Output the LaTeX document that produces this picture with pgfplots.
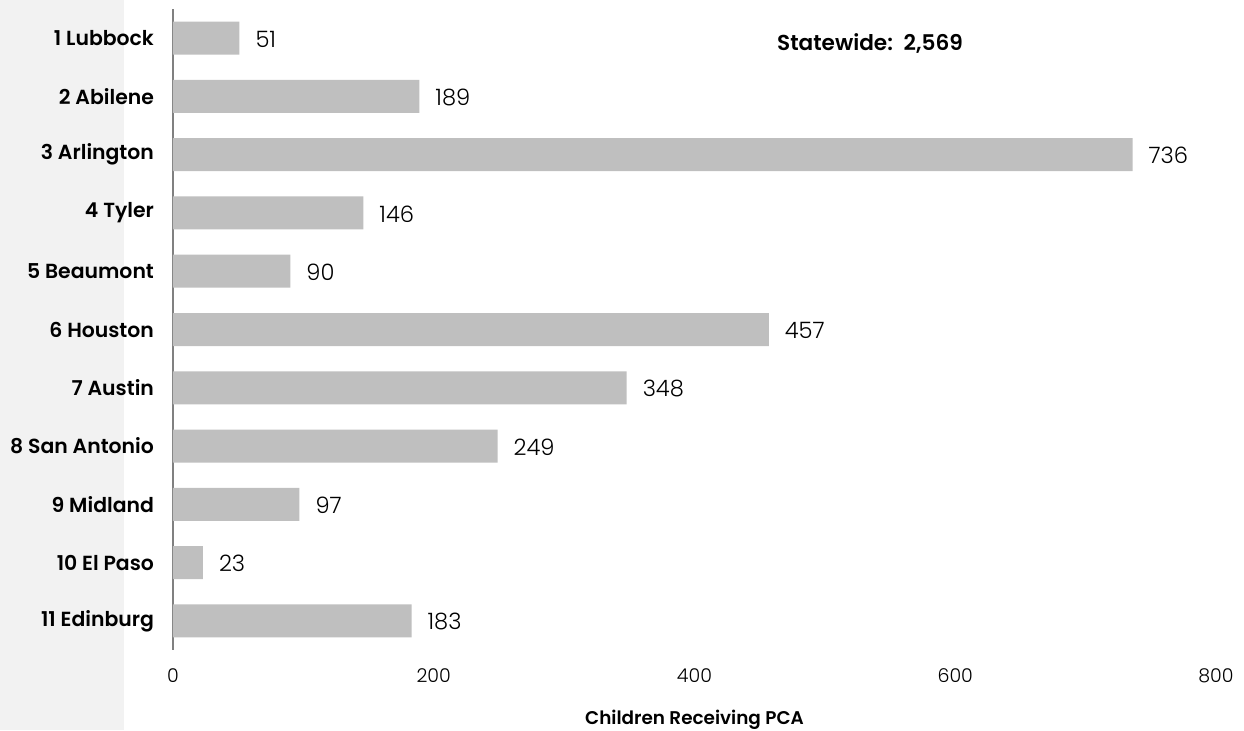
\documentclass[border=0pt]{standalone}
\usepackage{pgfplots}
\pgfplotsset{compat=1.18}
\usepackage{fontspec}
\setmainfont{Poppins}[UprightFont={* Light}, BoldFont={* SemiBold}]
\definecolor{barg}{HTML}{BFBFBF}
\definecolor{panel}{HTML}{F2F2F2}
\definecolor{axg}{HTML}{808080}
\begin{document}
\begin{tikzpicture}
\useasboundingbox (-86.5pt,-40pt) rectangle (535.5pt,325pt);
\fill[panel] (-86.5pt,-40pt) rectangle (-24.5pt,325pt);
\begin{axis}[
  at={(0,0)}, anchor=south west,
  scale only axis, width=521.5pt, height=320.5pt,
  xbar, bar width=16.5pt,
  xmin=0, xmax=800, ymin=0.5, ymax=11.5, y dir=reverse,
  xtick={0,200,400,600,800},
  ytick={1,...,11},
  yticklabels={1 Lubbock,2 Abilene,3 Arlington,4 Tyler,5 Beaumont,6 Houston,7 Austin,8 San Antonio,9 Midland,10 El Paso,11 Edinburg},
  yticklabel style={font=\fontsize{10.2}{12}\selectfont\bfseries, xshift=-6pt},
  xticklabel style={font=\fontsize{9.5}{11}\selectfont, yshift=-6pt},
  /pgf/number format/assume math mode=true,
  major tick length=0pt,
  axis x line*=bottom, x axis line style={draw=none},
  axis y line*=left, y axis line style={draw=axg, line width=0.6pt},
  xlabel={\bfseries Children Receiving PCA},
  xlabel style={font=\fontsize{9.2}{11}\selectfont, yshift=-6.5pt},
  nodes near coords,
  nodes near coords style={anchor=west, xshift=4.5pt, yshift=-0.5pt, font=\fontsize{11.3}{13}\selectfont},
  every node near coord/.append style={/pgf/number format/assume math mode=true},
  clip=false,
]
\addplot[fill=barg, draw=none] coordinates {
(51,1) (189,2) (736,3) (146,4) (90,5) (457,6) (348,7) (249,8) (97,9) (23,10) (183,11)};
\node[anchor=west, font=\fontsize{10.8}{13}\selectfont\bfseries] at (axis cs:458,1.1) {Statewide:\enspace 2,569};
\end{axis}
\end{tikzpicture}
\end{document}
